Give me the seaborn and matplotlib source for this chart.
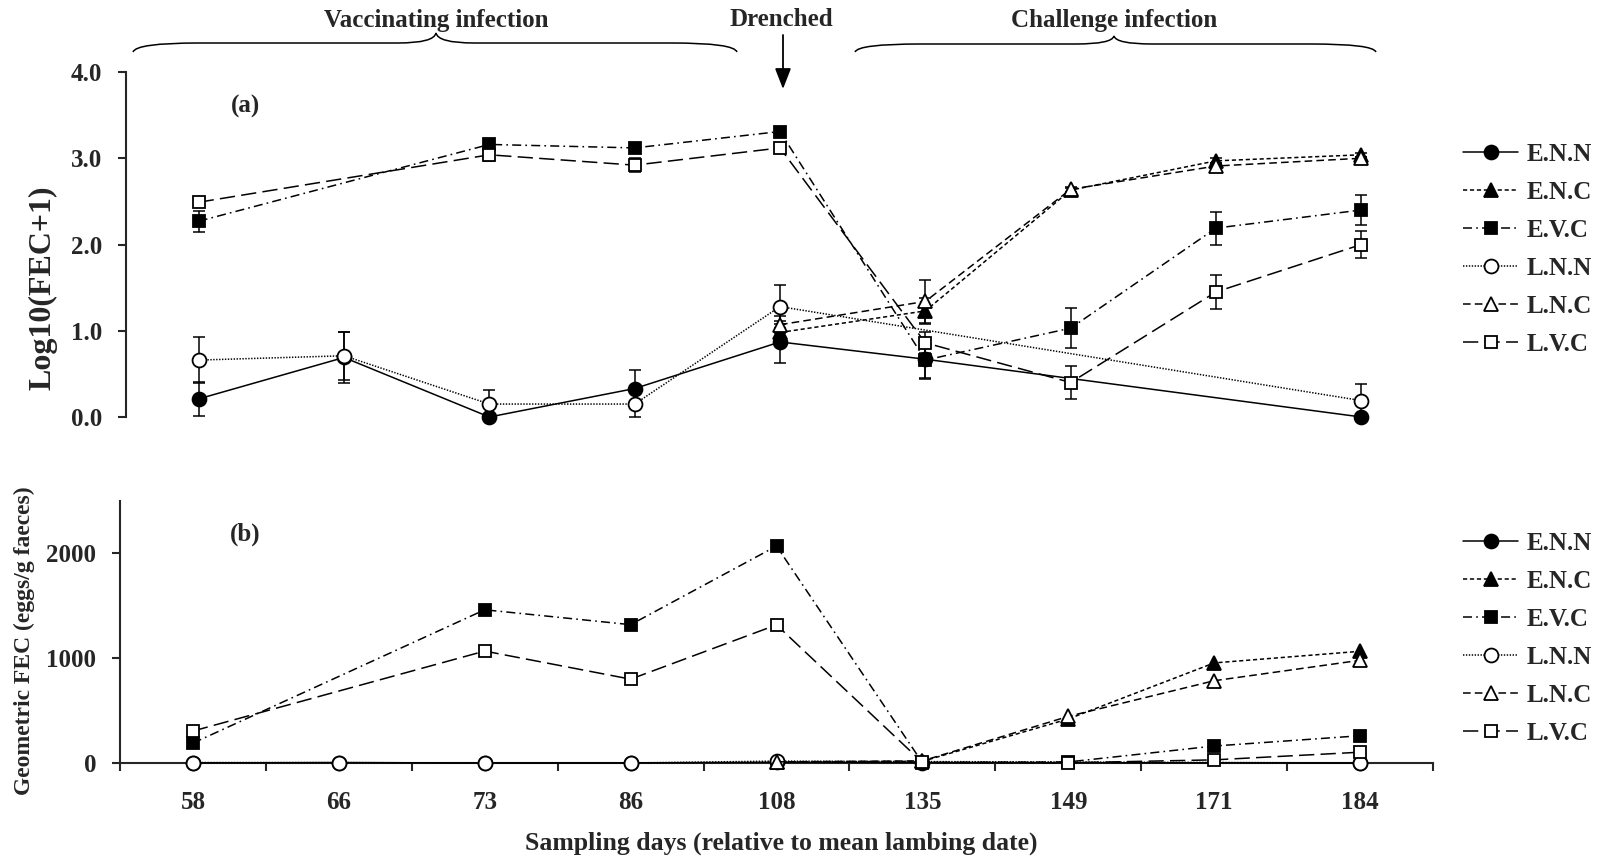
import numpy as np
import pandas as pd
import matplotlib
matplotlib.use("Agg")
import matplotlib.pyplot as plt
import seaborn as sns
from matplotlib.path import Path
from matplotlib.patches import PathPatch, FancyArrowPatch
from matplotlib.lines import Line2D

# ---------------------------------------------------------------- data
days = ["58", "66", "73", "86", "108", "135", "149", "171", "184"]
groups = ["E.N.N", "E.N.C", "E.V.C", "L.N.N", "L.N.C", "L.V.C"]
nan = np.nan

# (a) mean log10(FEC+1)
log_enn = [0.21, 0.69, 0.00, 0.33, 0.87, 0.67, nan, nan, 0.00]
log_enc = [nan, nan, nan, nan, 0.98, 1.23, 2.63, 2.97, 3.04]
log_evc = [2.27, nan, 3.16, 3.12, 3.31, 0.66, 1.03, 2.19, 2.40]
log_lnn = [0.66, 0.71, 0.15, 0.15, 1.28, nan, nan, nan, 0.19]
log_lnc = [nan, nan, nan, nan, 1.07, 1.34, 2.64, 2.91, 3.00]
log_lvc = [2.49, nan, 3.04, 2.92, 3.12, 0.86, 0.40, 1.45, 2.00]

# (a) standard errors
se_enn = [0.20, 0.30, nan, 0.21, 0.24, 0.22, nan, nan, nan]
se_enc = [nan, nan, nan, nan, 0.10, 0.15, 0.03, 0.03, 0.02]
se_evc = [0.12, nan, 0.05, 0.05, 0.04, 0.22, 0.23, 0.19, 0.17]
se_lnn = [0.27, 0.28, 0.16, 0.15, 0.25, nan, nan, nan, 0.19]
se_lnc = [nan, nan, nan, nan, 0.10, 0.25, 0.03, 0.04, 0.02]
se_lvc = [0.05, nan, 0.07, 0.08, 0.05, 0.12, 0.19, 0.20, 0.16]

# (b) geometric mean FEC (eggs/g faeces)
gm_enn = [1, 4, 0, 1, 7, 4, nan, nan, 0]
gm_enc = [nan, nan, nan, nan, 8, 16, 420, 955, 1066]
gm_evc = [190, nan, 1462, 1320, 2070, 4, 10, 162, 260]
gm_lnn = [4, 4, 0.4, 0.4, 18, nan, nan, nan, 0.5]
gm_lnc = [nan, nan, nan, nan, 11, 20, 445, 785, 980]
gm_lvc = [305, nan, 1068, 800, 1318, 6, 2, 30, 103]

log_vals = dict(zip(groups, [log_enn, log_enc, log_evc, log_lnn, log_lnc, log_lvc]))
se_vals = dict(zip(groups, [se_enn, se_enc, se_evc, se_lnn, se_lnc, se_lvc]))
gm_vals = dict(zip(groups, [gm_enn, gm_enc, gm_evc, gm_lnn, gm_lnc, gm_lvc]))

# ---------------------------------------------------------------- style
sns.set_style("ticks")
plt.rcParams["font.family"] = ["Liberation Serif", "DejaVu Serif"]
plt.rcParams["font.weight"] = "bold"
plt.rcParams["axes.labelweight"] = "bold"
plt.rcParams["lines.scale_dashes"] = False

FS = 18  # general text size

styles = {
    "E.N.N": dict(marker="o", fc="black", ls="-", ms=10),
    "E.N.C": dict(marker="^", fc="black", ls=(0, (3, 2)), ms=10),
    "E.V.C": dict(marker="s", fc="black", ls=(0, (6.5, 3, 1.2, 3)), ms=9),
    "L.N.N": dict(marker="o", fc="white", ls=(0, (1, 1.1)), ms=10),
    "L.N.C": dict(marker="^", fc="white", ls=(0, (5.5, 3)), ms=10),
    "L.V.C": dict(marker="s", fc="white", ls=(0, (11, 4.5)), ms=9),
}

W, H = 1597, 859
fig = plt.figure(figsize=(W / 100, H / 100), dpi=100)


def fx(px):
    return px / W


def fy(py):
    return 1 - py / H


ax_a = fig.add_axes([fx(126), fy(417), fx(1434) - fx(126), fy(72) - fy(417)])
ax_b = fig.add_axes([fx(120), fy(763), fx(1433) - fx(120), fy(501) - fy(763)])

pos = np.arange(len(days))


def draw_series(ax, values, errors=None):
    for g in groups:
        st = styles[g]
        df = pd.DataFrame({"pos": pos, "val": values[g]}).dropna()
        sns.lineplot(data=df, x="pos", y="val", ax=ax, color="black",
                     linewidth=1.1, linestyle=st["ls"], marker=st["marker"],
                     markersize=st["ms"], markerfacecolor=st["fc"],
                     markeredgecolor="black", markeredgewidth=1.3,
                     errorbar=None, sort=True, legend=False, zorder=3,
                     clip_on=False)
        if errors is not None:
            ax.errorbar(pos, values[g], yerr=errors[g], fmt="none",
                        ecolor="black", elinewidth=1.1, capsize=4.5,
                        capthick=1.1, zorder=2, clip_on=False)


draw_series(ax_a, log_vals, se_vals)
draw_series(ax_b, gm_vals)

tick_font = dict(fontsize=FS, fontweight="bold")

# panel (a)
ax_a.set_xlim(-0.5, len(days) - 0.5)
ax_a.set_ylim(0, 4)
ax_a.set_yticks([0, 1, 2, 3, 4])
ax_a.set_yticklabels([f"{v:.1f}" for v in [0, 1, 2, 3, 4]], **tick_font)
ax_a.set_xticks([])
for s in ["top", "right", "bottom"]:
    ax_a.spines[s].set_visible(False)
ax_a.spines["left"].set_linewidth(1.5)
ax_a.tick_params(axis="y", direction="out", length=6, width=1.5, pad=11)
ax_a.set_xlabel("")
ax_a.set_ylabel("Log10(FEC+1)", fontsize=23, fontweight="bold")
ax_a.yaxis.set_label_coords(-0.052, 0.374)
ax_a.text(fx(245), fy(106), "(a)", transform=fig.transFigure, fontsize=FS,
          fontweight="bold", ha="center", va="center")

# panel (b)
ax_b.set_xlim(-0.5, len(days) - 0.5)
ax_b.set_ylim(0, 2500)
ax_b.set_yticks([0, 1000, 2000])
ax_b.set_yticklabels(["0", "1000", "2000"], **tick_font)
ax_b.set_xticks(pos)
ax_b.set_xticklabels(days, **tick_font)
ax_b.set_xticks(np.arange(len(days) + 1) - 0.5, minor=True)
ax_b.tick_params(axis="x", which="major", length=0, pad=20)
ax_b.tick_params(axis="x", which="minor", direction="out", length=6, width=1.5)
ax_b.tick_params(axis="y", direction="out", length=6, width=1.5, pad=11)
for s in ["top", "right"]:
    ax_b.spines[s].set_visible(False)
for s in ["left", "bottom"]:
    ax_b.spines[s].set_linewidth(1.5)
ax_b.set_ylabel("Geometric FEC (eggs/g faeces)", fontsize=17, fontweight="bold")
ax_b.yaxis.set_label_coords(-0.065, 0.466)
ax_b.set_xlabel("")
fig.text(fx(781), fy(843), "Sampling days (relative to mean lambing date)",
         fontsize=18.5, fontweight="bold", ha="center", va="center")
ax_b.text(fx(245), fy(534), "(b)", transform=fig.transFigure, fontsize=FS,
          fontweight="bold", ha="center", va="center")

# legends
handles = [Line2D([0], [0], color="black", lw=1.1, linestyle=styles[g]["ls"],
                  marker=styles[g]["marker"], markersize=styles[g]["ms"],
                  markerfacecolor=styles[g]["fc"], markeredgecolor="black",
                  markeredgewidth=1.3) for g in groups]
for top in (143.0, 532.0):
    fig.legend(handles, groups, loc="upper left",
               bbox_to_anchor=(fx(1463), fy(top)), bbox_transform=fig.transFigure,
               frameon=False, borderpad=0, borderaxespad=0,
               fontsize=FS, handlelength=2.2, handletextpad=0.36,
               labelspacing=0.6, numpoints=1)


# braces and period labels
def brace(x0, x1, xm, y_end, y_mid, y_peak, r, r2):
    verts = [(x0, y_end), (x0 + 3, y_mid), (x0 + r, y_mid),
             (xm - r2, y_mid),
             (xm - 2, y_mid), (xm, y_peak),
             (xm + 2, y_mid), (xm + r2, y_mid),
             (x1 - r, y_mid),
             (x1 - 3, y_mid), (x1, y_end)]
    codes = [Path.MOVETO, Path.CURVE3, Path.CURVE3,
             Path.LINETO,
             Path.CURVE3, Path.CURVE3,
             Path.CURVE3, Path.CURVE3,
             Path.LINETO,
             Path.CURVE3, Path.CURVE3]
    verts = [(fx(a), fy(b)) for a, b in verts]
    patch = PathPatch(Path(verts, codes), transform=fig.transFigure,
                      facecolor="none", edgecolor="black", lw=1.1)
    fig.add_artist(patch)


brace(133, 737, 436, 52, 43, 33, 65, 38)
brace(855, 1376, 1114, 52, 44, 36, 65, 38)

fig.text(fx(436), fy(20), "Vaccinating infection", fontsize=FS,
         fontweight="bold", ha="center", va="center")
fig.text(fx(781), fy(20), "Drenched", fontsize=FS,
         fontweight="bold", ha="center", va="center")
fig.text(fx(1114), fy(20), "Challenge infection", fontsize=FS,
         fontweight="bold", ha="center", va="center")

fig.add_artist(FancyArrowPatch(
    (fx(783), fy(35)), (fx(783), fy(89)), transform=fig.transFigure,
    arrowstyle="-|>,head_length=0.9,head_width=0.35", mutation_scale=14,
    color="black", lw=1.3, shrinkA=0, shrinkB=0))

fig.savefig("out.png", dpi=100, facecolor="white")
